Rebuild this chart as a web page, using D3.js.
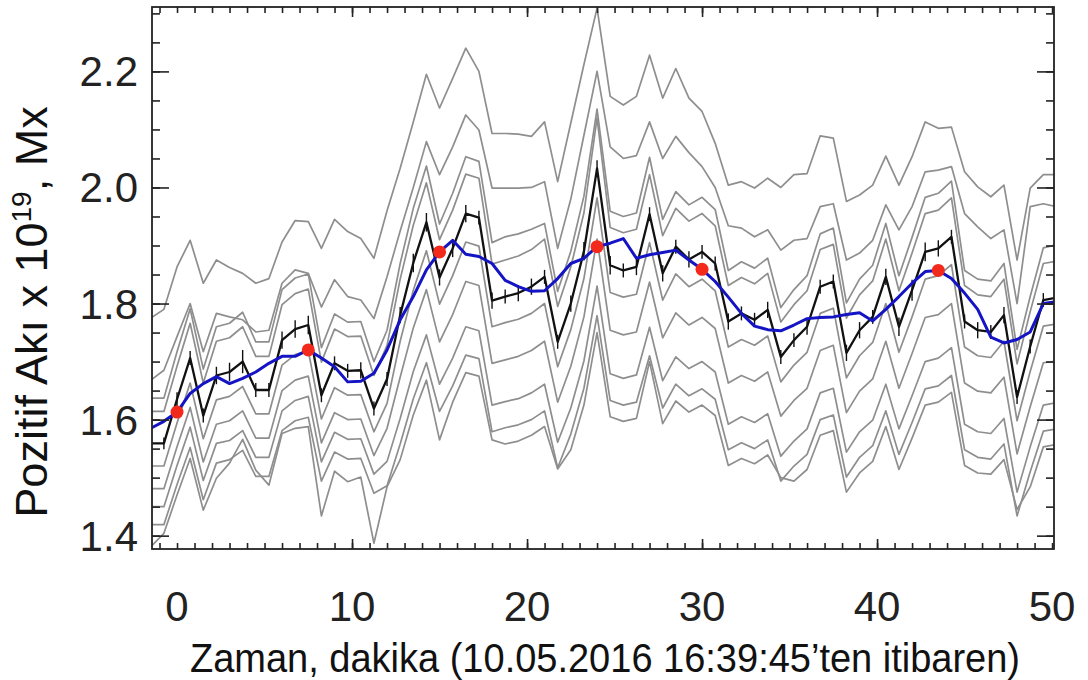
<!DOCTYPE html>
<html><head><meta charset="utf-8">
<script src="https://cdn.jsdelivr.net/npm/d3@7"></script>
<style>
html,body{margin:0;padding:0;background:#fff;}
svg{display:block;font-family:"Liberation Sans",Arial,Helvetica,sans-serif;}
</style></head><body>
<svg id="chart" width="1088" height="680"></svg>
<script>
// time in minutes (45 s cadence)
const times = [
 -1.5,-0.75,0,0.75,1.5,2.25,3,3.75,4.5,5.25,
 6,6.75,7.5,8.25,9,9.75,10.5,11.25,12,12.75,
 13.5,14.25,15,15.75,16.5,17.25,18,18.75,19.5,20.25,
 21,21.75,22.5,23.25,24,24.75,25.5,26.25,27,27.75,
 28.5,29.25,30,30.75,31.5,32.25,33,33.75,34.5,35.25,
 36,36.75,37.5,38.25,39,39.75,40.5,41.25,42,42.75,
 43.5,44.25,45,45.75,46.5,47.25,48,48.75,49.5,50.25];

const blackFlux = [
 1.559,1.559,1.635,1.706,1.607,1.676,1.682,1.700,1.651,1.651,
 1.737,1.756,1.763,1.642,1.697,1.684,1.685,1.619,1.670,1.780,
 1.870,1.940,1.845,1.895,1.955,1.948,1.805,1.812,1.818,1.829,
 1.846,1.734,1.800,1.890,2.033,1.866,1.857,1.863,1.954,1.852,
 1.898,1.876,1.889,1.869,1.769,1.783,1.772,1.789,1.708,1.737,
 1.760,1.829,1.838,1.715,1.754,1.777,1.846,1.760,1.823,1.889,
 1.895,1.915,1.769,1.754,1.751,1.780,1.639,1.726,1.806,1.810];

const blackErr = [
 0.010,0.010,0.012,0.012,0.012,0.015,0.016,0.020,0.012,0.012,
 0.015,0.015,0.016,0.012,0.012,0.012,0.014,0.012,0.012,0.014,
 0.016,0.016,0.014,0.015,0.015,0.012,0.014,0.012,0.014,0.014,
 0.012,0.012,0.014,0.016,0.014,0.016,0.012,0.014,0.012,0.014,
 0.012,0.014,0.012,0.012,0.014,0.012,0.012,0.014,0.012,0.012,
 0.014,0.012,0.012,0.014,0.014,0.012,0.014,0.016,0.018,0.016,
 0.014,0.012,0.012,0.014,0.012,0.014,0.012,0.012,0.012,0.012];

const blueSmooth = [
 1.585,1.597,1.613,1.645,1.662,1.674,1.662,1.671,1.682,1.697,
 1.709,1.709,1.720,1.706,1.691,1.665,1.666,1.680,1.720,1.772,
 1.812,1.858,1.889,1.909,1.885,1.881,1.869,1.840,1.829,1.821,
 1.822,1.843,1.869,1.878,1.898,1.904,1.912,1.878,1.884,1.888,
 1.892,1.875,1.859,1.838,1.811,1.783,1.761,1.755,1.753,1.763,
 1.774,1.776,1.777,1.781,1.784,1.770,1.790,1.812,1.835,1.855,
 1.857,1.843,1.818,1.790,1.742,1.732,1.738,1.751,1.800,1.803];

const gray1 = [
 1.775,1.790,1.863,1.909,1.835,1.875,1.862,1.852,1.835,1.843,
 1.906,1.943,1.941,1.895,1.945,1.924,1.912,1.878,1.960,2.033,
 2.113,2.195,2.137,2.188,2.240,2.200,2.093,2.093,2.092,2.088,
 2.113,2.010,2.111,2.212,2.309,2.157,2.142,2.157,2.228,2.154,
 2.205,2.154,2.131,2.076,2.004,2.010,1.999,2.016,2.000,2.022,
 2.024,2.089,2.085,1.976,1.987,2.004,2.054,2.004,2.053,2.113,
 2.102,2.104,2.027,2.001,1.984,2.004,1.875,1.999,2.022,2.022];
const gray2 = [
 1.668,1.685,1.743,1.800,1.717,1.783,1.777,1.772,1.751,1.754,
 1.835,1.858,1.852,1.794,1.841,1.812,1.806,1.774,1.846,1.925,
 2.000,2.079,2.022,2.070,2.125,2.099,1.999,1.999,1.999,2.000,
 2.010,1.895,1.980,2.090,2.200,2.070,2.050,2.055,2.113,2.050,
 2.088,2.060,2.036,2.000,1.934,1.930,1.915,1.927,1.892,1.909,
 1.912,1.967,1.972,1.875,1.887,1.909,1.970,1.927,1.967,2.027,
 2.030,2.036,1.955,1.932,1.912,1.927,1.800,1.967,1.972,1.967];
const gray3 = [
 1.637,1.637,1.717,1.791,1.687,1.760,1.766,1.785,1.734,1.734,
 1.824,1.844,1.851,1.724,1.782,1.768,1.769,1.700,1.754,1.869,
 1.964,2.037,1.937,1.990,2.053,2.045,1.905,1.915,1.920,1.928,
 1.938,1.821,1.890,1.985,2.135,1.959,1.950,1.956,2.052,1.945,
 1.993,1.970,1.983,1.962,1.857,1.872,1.861,1.878,1.793,1.824,
 1.848,1.920,1.930,1.801,1.842,1.866,1.938,1.848,1.914,1.983,
 1.990,2.011,1.857,1.842,1.839,1.869,1.721,1.812,1.896,1.901];
const gray4 = [
 1.614,1.614,1.692,1.766,1.663,1.735,1.741,1.760,1.709,1.709,
 1.798,1.817,1.825,1.699,1.756,1.743,1.744,1.676,1.728,1.842,
 1.935,2.008,1.910,1.961,2.023,2.016,1.868,1.875,1.882,1.893,
 1.911,1.795,1.863,1.956,2.120,1.931,1.922,1.928,2.022,1.917,
 1.964,1.942,1.955,1.934,1.831,1.845,1.834,1.852,1.768,1.798,
 1.822,1.893,1.902,1.775,1.815,1.839,1.911,1.822,1.887,1.955,
 1.961,1.982,1.831,1.815,1.812,1.842,1.696,1.786,1.869,1.873];
const gray5 = [
 1.520,1.520,1.594,1.663,1.567,1.634,1.640,1.657,1.610,1.610,
 1.694,1.712,1.719,1.601,1.655,1.642,1.643,1.579,1.628,1.735,
 1.823,1.891,1.799,1.848,1.906,1.899,1.760,1.767,1.773,1.783,
 1.800,1.691,1.755,1.843,1.982,1.819,1.811,1.816,1.905,1.806,
 1.851,1.829,1.842,1.822,1.725,1.738,1.728,1.744,1.665,1.694,
 1.716,1.783,1.792,1.672,1.710,1.733,1.800,1.716,1.777,1.842,
 1.848,1.867,1.725,1.710,1.707,1.735,1.598,1.683,1.761,1.765];
const gray6 = [
 1.481,1.481,1.553,1.621,1.527,1.592,1.598,1.615,1.568,1.568,
 1.650,1.668,1.675,1.560,1.612,1.600,1.601,1.538,1.585,1.673,
 1.758,1.824,1.734,1.781,1.838,1.831,1.697,1.703,1.709,1.719,
 1.735,1.630,1.692,1.777,1.911,1.754,1.746,1.751,1.837,1.741,
 1.784,1.763,1.776,1.757,1.663,1.676,1.666,1.682,1.606,1.633,
 1.654,1.719,1.728,1.612,1.649,1.670,1.735,1.654,1.714,1.776,
 1.781,1.800,1.663,1.649,1.646,1.673,1.541,1.622,1.698,1.701];
const gray7 = [
 1.450,1.450,1.521,1.587,1.495,1.559,1.564,1.581,1.535,1.535,
 1.615,1.633,1.640,1.527,1.578,1.566,1.567,1.506,1.528,1.602,
 1.683,1.746,1.661,1.706,1.760,1.753,1.625,1.631,1.636,1.646,
 1.661,1.561,1.620,1.701,1.830,1.679,1.671,1.677,1.759,1.667,
 1.708,1.688,1.700,1.682,1.592,1.605,1.595,1.610,1.537,1.563,
 1.584,1.646,1.654,1.544,1.579,1.599,1.661,1.584,1.641,1.700,
 1.706,1.724,1.592,1.579,1.576,1.602,1.475,1.553,1.625,1.629];
const gray8 = [
 1.419,1.419,1.488,1.552,1.462,1.525,1.531,1.547,1.502,1.502,
 1.581,1.598,1.604,1.494,1.544,1.532,1.533,1.473,1.486,1.558,
 1.636,1.698,1.614,1.658,1.711,1.705,1.579,1.586,1.591,1.600,
 1.615,1.517,1.575,1.654,1.779,1.633,1.625,1.630,1.710,1.620,
 1.661,1.641,1.653,1.635,1.548,1.560,1.550,1.565,1.494,1.520,
 1.540,1.600,1.608,1.501,1.535,1.555,1.615,1.540,1.595,1.653,
 1.658,1.676,1.548,1.535,1.532,1.558,1.434,1.510,1.580,1.584];
const gray9 = [
 1.381,1.404,1.470,1.533,1.444,1.499,1.525,1.566,1.513,1.487,
 1.576,1.585,1.588,1.434,1.511,1.493,1.501,1.387,1.484,1.531,
 1.608,1.668,1.565,1.630,1.681,1.675,1.565,1.558,1.563,1.573,
 1.588,1.515,1.548,1.625,1.750,1.605,1.597,1.602,1.700,1.593,
 1.632,1.613,1.625,1.607,1.521,1.533,1.524,1.539,1.500,1.494,
 1.514,1.573,1.581,1.475,1.508,1.528,1.588,1.514,1.568,1.625,
 1.630,1.647,1.521,1.508,1.506,1.531,1.445,1.484,1.553,1.557];

const redTimes  = [0, 7.5, 15, 24, 30, 43.5];
const redValues = [1.613, 1.720, 1.889, 1.898, 1.859, 1.857];

const xLabelTicks = [0, 10, 20, 30, 40, 50];
const xLongTicks  = [10, 20, 30, 40];
const yLabelTicks = [1.4, 1.6, 1.8, 2.0, 2.2];
const xTitle = "Zaman, dakika (10.05.2016 16:39:45\u2019ten itibaren)";

const grayTraces = [gray1, gray2, gray3, gray4, gray5, gray6, gray7, gray8, gray9];

const svg = d3.select("#chart");
const L = 152, R = 1054, T = 7, B = 549;
const x = d3.scaleLinear().domain([-1.43, 50.11]).range([L, R]);
const y = d3.scaleLinear().domain([1.377, 2.311]).range([B, T]);

svg.append("defs").append("clipPath").attr("id", "clip")
  .append("rect").attr("x", L).attr("y", T).attr("width", R - L).attr("height", B - T);

const plot = svg.append("g").attr("clip-path", "url(#clip)");
const line = d3.line().x((d, i) => x(times[i])).y(d => y(d));

plot.selectAll("path.gray").data(grayTraces).join("path")
  .attr("class", "gray").attr("d", d => line(d))
  .attr("fill", "none").attr("stroke", "#8e8e8e").attr("stroke-width", 1.7)
  .attr("stroke-linejoin", "round");

plot.selectAll("line.err").data(blackFlux).join("line")
  .attr("class", "err")
  .attr("x1", (d, i) => x(times[i])).attr("x2", (d, i) => x(times[i]))
  .attr("y1", (d, i) => y(d - blackErr[i])).attr("y2", (d, i) => y(d + blackErr[i]))
  .attr("stroke", "#111").attr("stroke-width", 1.4);

plot.append("path").attr("d", line(blackFlux))
  .attr("fill", "none").attr("stroke", "#111").attr("stroke-width", 2.3)
  .attr("stroke-linejoin", "round");

plot.append("path").attr("d", line(blueSmooth))
  .attr("fill", "none").attr("stroke", "#1414c4").attr("stroke-width", 3)
  .attr("stroke-linejoin", "round");

plot.selectAll("circle.red").data(redTimes).join("circle")
  .attr("class", "red")
  .attr("cx", d => x(d)).attr("cy", (d, i) => y(redValues[i]))
  .attr("r", 6.5).attr("fill", "#f2291b");

// axes ticks (inward on all four sides)
function styleAxis(g) {
  g.select(".domain").remove();
  g.selectAll(".tick line").attr("stroke", "#222").attr("stroke-width", 1.6);
}
const xMinor = x.ticks(60);
const yMinor = y.ticks(20);

svg.append("g").attr("transform", `translate(0,${B})`)
  .call(d3.axisBottom(x).tickValues(xMinor).tickSize(-6).tickSizeOuter(0).tickFormat("")).call(styleAxis);
svg.append("g").attr("transform", `translate(0,${B})`)
  .call(d3.axisBottom(x).tickValues(xLongTicks).tickSize(-10).tickSizeOuter(0).tickFormat("")).call(styleAxis);
svg.append("g").attr("transform", `translate(0,${T})`)
  .call(d3.axisTop(x).tickValues(xMinor).tickSize(-6).tickSizeOuter(0).tickFormat("")).call(styleAxis);
svg.append("g").attr("transform", `translate(0,${T})`)
  .call(d3.axisTop(x).tickValues(xLongTicks).tickSize(-10).tickSizeOuter(0).tickFormat("")).call(styleAxis);

svg.append("g").attr("transform", `translate(${L},0)`)
  .call(d3.axisLeft(y).tickValues(yMinor).tickSize(-8).tickSizeOuter(0).tickFormat("")).call(styleAxis);
svg.append("g").attr("transform", `translate(${L},0)`)
  .call(d3.axisLeft(y).tickValues(yLabelTicks).tickSize(-17).tickSizeOuter(0).tickFormat("")).call(styleAxis);
svg.append("g").attr("transform", `translate(${R},0)`)
  .call(d3.axisRight(y).tickValues(yMinor).tickSize(-8).tickSizeOuter(0).tickFormat("")).call(styleAxis);
svg.append("g").attr("transform", `translate(${R},0)`)
  .call(d3.axisRight(y).tickValues(yLabelTicks).tickSize(-17).tickSizeOuter(0).tickFormat("")).call(styleAxis);

// frame
svg.append("rect").attr("x", L).attr("y", T).attr("width", R - L).attr("height", B - T)
  .attr("fill", "none").attr("stroke", "#222").attr("stroke-width", 1.8);

// tick labels
svg.selectAll("text.xl").data(xLabelTicks).join("text")
  .attr("class", "xl").attr("x", d => x(d)).attr("y", 621)
  .attr("text-anchor", "middle").attr("font-size", 42).attr("fill", "#222")
  .text(d => d);

svg.selectAll("text.yl").data(yLabelTicks).join("text")
  .attr("class", "yl").attr("x", 138).attr("y", d => y(d) + 15)
  .attr("text-anchor", "end").attr("font-size", 42).attr("fill", "#222")
  .text(d => d3.format(".1f")(d));

// axis titles
svg.append("text").attr("x", 605).attr("y", 672)
  .attr("text-anchor", "middle").attr("font-size", 40).attr("fill", "#111")
  .attr("textLength", 830).attr("lengthAdjust", "spacingAndGlyphs")
  .text(xTitle);

const yt = svg.append("text")
  .attr("transform", "translate(47,312) rotate(-90)")
  .attr("text-anchor", "middle").attr("font-size", 45).attr("fill", "#111");
yt.append("tspan").text("Pozitif Ak\u0131 x 10");
yt.append("tspan").attr("dy", -16).attr("font-size", 28).text("19");
yt.append("tspan").attr("dy", 16).text(", Mx");
</script>
</body></html>
